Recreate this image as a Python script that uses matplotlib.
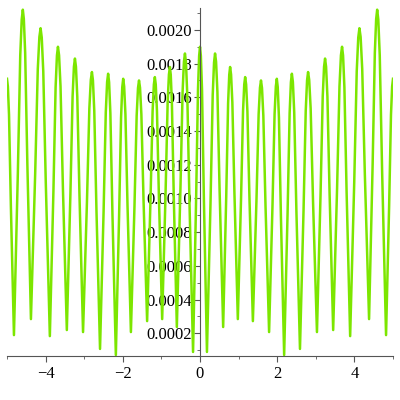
import matplotlib
matplotlib.use("Agg")
import matplotlib.pyplot as plt
import numpy as np

# valores (picos e vales da curva)
peak_x = [-5.00, -4.59, -4.13, -3.68, -3.24, -2.80, -2.38, -1.99, -1.58, -1.17, -0.78, -0.39,
          0.00, 0.39, 0.78, 1.17, 1.58, 1.99, 2.38, 2.80, 3.24, 3.68, 4.13, 4.59, 5.00]
peak_y = [0.00171, 0.00212, 0.00201, 0.00190, 0.00183, 0.00175, 0.00174, 0.00171, 0.00170,
          0.00172, 0.00178, 0.00186, 0.00190, 0.00186, 0.00178, 0.00172, 0.00170, 0.00171,
          0.00174, 0.00175, 0.00183, 0.00190, 0.00201, 0.00212, 0.00171]
trough_x = [-4.82, -4.38, -3.89, -3.45, -3.03, -2.59, -2.18, -1.79, -1.37, -0.98, -0.60, -0.18,
            0.18, 0.60, 0.98, 1.37, 1.79, 2.18, 2.59, 3.03, 3.45, 3.89, 4.38, 4.82]
trough_y = [0.000189, 0.000284, 0.000183, 0.000219, 0.000207, 0.000107, 0.000071, 0.000207,
            0.000272, 0.000284, 0.000237, 0.000089, 0.000089, 0.000237, 0.000284, 0.000272,
            0.000207, 0.000071, 0.000107, 0.000207, 0.000219, 0.000183, 0.000284, 0.000189]

# forma de um lobo medida na figura: posicao (vale -> pico) e altura relativa
lobe_pos = [0.44, 0.71, 0.875]
lobe_h = [0.50, 0.86, 0.97]

xs = np.array(peak_x + trough_x)
ys = np.array(peak_y + trough_y)
ordem = np.argsort(xs)
xs, ys = xs[ordem], ys[ordem]

# arredonda os topos: entre cada vale e pico entra a forma medida
cx, cy = [xs[0]], [ys[0]]
for i in range(1, len(xs)):
    x0, y0, x1, y1 = xs[i - 1], ys[i - 1], xs[i], ys[i]
    if y1 > y0:   # subindo para um pico
        for p, h in zip(lobe_pos, lobe_h):
            cx.append(x0 + p * (x1 - x0))
            cy.append(y0 + h * (y1 - y0))
    else:         # descendo do pico
        for p, h in zip(lobe_pos[::-1], lobe_h[::-1]):
            cx.append(x1 + p * (x0 - x1))
            cy.append(y1 + h * (y0 - y1))
    cx.append(x1)
    cy.append(y1)

fig = plt.figure(figsize=(4, 4), dpi=100)
ax = fig.add_axes([0.0175, 0.11, 0.965, 0.87])
ax.plot(cx, cy, color='#7ce600', lw=1.8, solid_joinstyle='round')

ax.set_xlim(-5, 5)
ax.set_ylim(0.000065, 0.00213)

ax.spines['top'].set_visible(False)
ax.spines['right'].set_visible(False)
ax.spines['left'].set_position(('data', 0))
ax.spines['left'].set_color('#555555')
ax.spines['bottom'].set_color('#555555')

ax.set_xticks([-4, -2, 0, 2, 4])
ax.set_xticklabels(['\u22124', '\u22122', '0', '2', '4'])
ax.set_xticks(np.arange(-5, 6, 1), minor=True)
ax.set_yticks(np.arange(0.0002, 0.00201, 0.0002))
ax.set_yticklabels(['%.4f' % v for v in np.arange(0.0002, 0.00201, 0.0002)])
ax.set_yticks(np.arange(0.0001, 0.00211, 0.0001), minor=True)

ax.tick_params(which='both', colors='#555555', labelcolor='black', labelsize=12)
ax.tick_params(which='major', length=4)
ax.tick_params(which='minor', length=2.5)
ax.tick_params(axis='y', pad=2)
for t in ax.get_xticklabels() + ax.get_yticklabels():
    t.set_family('Liberation Serif')

plt.savefig('out.png', dpi=100)
